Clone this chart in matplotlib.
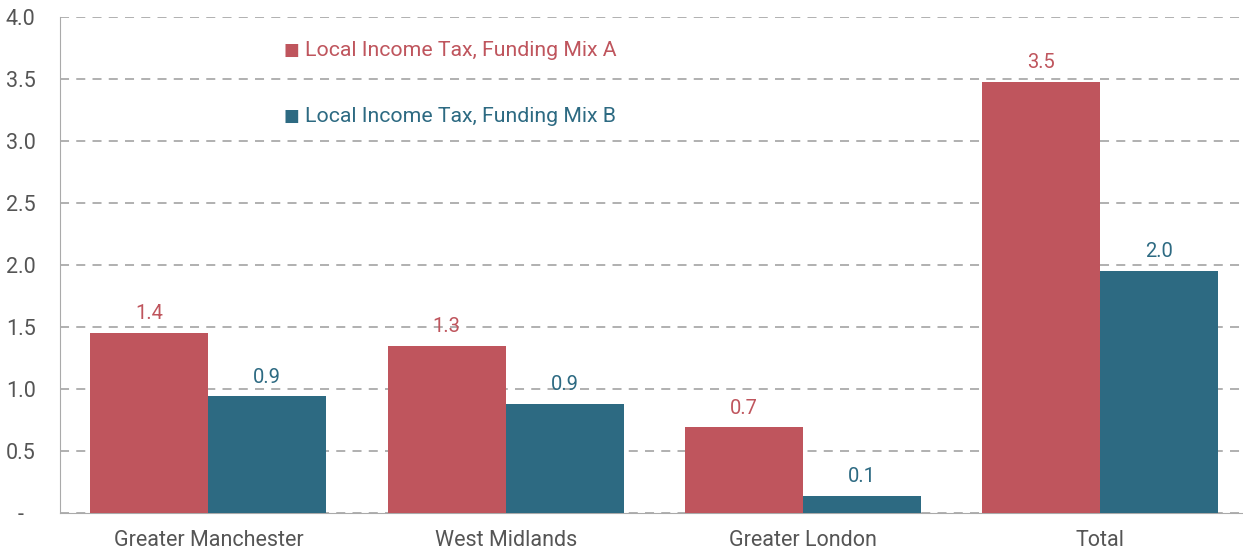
import numpy as np
import matplotlib.pyplot as plt

plt.rcParams['font.family'] = ['Roboto', 'DejaVu Sans']

categories = ['Greater Manchester', 'West Midlands', 'Greater London', 'Total']
mix_a = [1.45, 1.35, 0.69, 3.48]
mix_b = [0.94, 0.88, 0.14, 1.95]
labels_a = ['1.4', '1.3', '0.7', '3.5']
labels_b = ['0.9', '0.9', '0.1', '2.0']
yticks = [0, 0.5, 1.0, 1.5, 2.0, 2.5, 3.0, 3.5, 4.0]
ytick_labels = ['-', '0.5', '1.0', '1.5', '2.0', '2.5', '3.0', '3.5', '4.0']

red = '#BF555D'
blue = '#2D6A82'
grey_text = '#555555'

fig = plt.figure(figsize=(12.43, 5.51), dpi=100)
ax = fig.add_axes([0.048, 0.069, 0.952, 0.9])

x = np.arange(len(categories))
w = 0.397
ax.bar(x - w / 2, mix_a, w, color=red, zorder=3)
ax.bar(x + w / 2, mix_b, w, color=blue, zorder=3)

for i in range(len(categories)):
    ax.text(x[i] - w / 2, mix_a[i] + 0.08, labels_a[i], ha='center', va='bottom',
            color=red, fontsize=14.5)
    ax.text(x[i] + w / 2, mix_b[i] + 0.08, labels_b[i], ha='center', va='bottom',
            color=blue, fontsize=14.5)

ax.set_xlim(-0.5, 3.48)
ax.set_ylim(0, 4.0)
ax.set_yticks(yticks)
ax.set_yticklabels(ytick_labels)
ax.set_xticks(x)
ax.set_xticklabels(categories)
ax.tick_params(axis='both', labelsize=15.5, colors=grey_text, length=0)
ax.tick_params(axis='x', pad=12)
ax.tick_params(axis='y', pad=28)
for t in ax.get_yticklabels():
    t.set_horizontalalignment('center')

ax.yaxis.grid(True, linestyle=(0, (5, 4)), color='#aaaaaa', linewidth=1.3, zorder=0)
for s in ['top', 'right']:
    ax.spines[s].set_visible(False)
ax.spines['left'].set_color('#aaaaaa')
ax.spines['bottom'].set_color('#aaaaaa')

# legend drawn as text with square markers
ax.text(0.189, 0.933, '\u25A0', transform=ax.transAxes, color=red, fontsize=12, va='center')
ax.text(0.207, 0.933, 'Local Income Tax, Funding Mix A', transform=ax.transAxes,
        color=red, fontsize=15.3, va='center')
ax.text(0.189, 0.8, '\u25A0', transform=ax.transAxes, color=blue, fontsize=12, va='center')
ax.text(0.207, 0.8, 'Local Income Tax, Funding Mix B', transform=ax.transAxes,
        color=blue, fontsize=15.3, va='center')

fig.savefig('out.png', dpi=100)
